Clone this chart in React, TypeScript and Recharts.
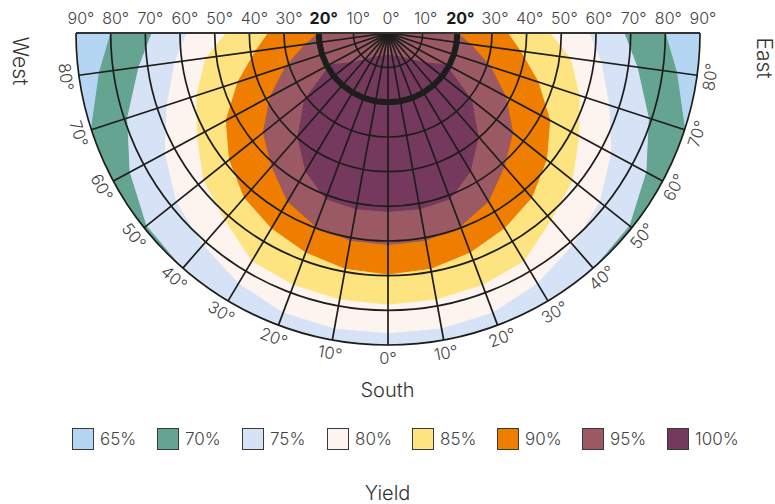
import { RadarChart, Radar, PolarGrid, PolarAngleAxis, PolarRadiusAxis, Legend } from 'recharts'

const FONT = "Inter, 'Noto Sans', sans-serif"
const CX = 388
const CY = 33
const R = 312

// azimuth from west (-90) over south (0) to east (90)
const azimuths = [-90, -80, -70, -60, -50, -40, -30, -20, -10, 0, 10, 20, 30, 40, 50, 60, 70, 80, 90]

// tilt (deg) up to which the yield stays at or above each level, per azimuth
const yield65 = [90, 90, 90, 90, 90, 90, 90, 90, 90, 90, 90, 90, 90, 90, 90, 90, 90, 90, 90]
const yield70 = [79, 84, 90, 90, 90, 90, 90, 90, 90, 90, 90, 90, 90, 90, 90, 90, 90, 84, 79]
const yield75 = [67, 72.5, 79, 84.5, 89, 90, 90, 90, 90, 90, 90, 90, 90, 90, 89, 84.5, 79, 72.5, 67]
const yield80 = [57, 62, 67, 73, 78, 81, 84, 86, 86.5, 86.5, 86.5, 86, 84, 81, 78, 73, 67, 62, 57]
const yield85 = [45, 53, 58, 62.5, 68, 71.5, 76.5, 77.5, 78, 78.2, 78, 77.5, 76.5, 71.5, 68, 62.5, 58, 53, 45]
const yield90 = [33.5, 38.5, 45.5, 53, 58.5, 63, 65.5, 67.5, 69, 69.5, 69, 67.5, 65.5, 63, 58.5, 53, 45.5, 38.5, 33.5]
const yield95 = [19, 24, 31, 38.5, 46, 51, 56.5, 59.5, 60.8, 61, 60.8, 59.5, 56.5, 51, 46, 38.5, 31, 24, 19]
// the 100 % area does not touch the centre: [from tilt, to tilt]
const yield100 = [
  [19, 19], [19, 19], [19, 19], [19, 19], [13.5, 31], [10, 39.8], [8, 46.5], [7, 51.2], [6.5, 51.7], [6.3, 51.6],
  [6.5, 51.7], [7, 51.2], [8, 46.5], [10, 39.8], [13.5, 31], [19, 19], [19, 19], [19, 19], [19, 19],
]

const levels = ['65%', '70%', '75%', '80%', '85%', '90%', '95%', '100%']
const levelKeys = ['y65', 'y70', 'y75', 'y80', 'y85', 'y90', 'y95', 'y100']
const levelColors = ['#b5d6f2', '#64a490', '#d6e3f6', '#fdf4ef', '#fee480', '#ef7d00', '#9b5a63', '#76395e']

const highlightTilt = 20

const rows = azimuths.map((az, i) => ({
  az,
  y65: yield65[i],
  y70: yield70[i],
  y75: yield75[i],
  y80: yield80[i],
  y85: yield85[i],
  y90: yield90[i],
  y95: yield95[i],
  y100: yield100[i],
  ring: highlightTilt,
}))

const css = `
body { margin: 0; }
.recharts-polar-grid, .recharts-radar { clip-path: url(#lowerHalf); }
`

function RimTick(props: any) {
  const { x, y, payload } = props
  const v = payload.value
  if (Math.abs(v) >= 90) return <g />
  const rot = 270 - payload.coordinate
  return (
    <text
      x={x}
      y={y}
      transform={`rotate(${rot} ${x} ${y})`}
      textAnchor="middle"
      dominantBaseline="central"
      fontSize={16.5}
      fontFamily={FONT}
      fontWeight={300}
      fill="#444"
    >
      {Math.abs(v)}°
    </text>
  )
}

function TopTick(props: any) {
  const { x, y, payload, side } = props
  const v = payload.value
  if (side === 'left' && v === 0) return <g />
  const bold = v === highlightTilt
  const dx = side === 'left' ? 5 : 3
  return (
    <text
      x={x + dx}
      y={y - 9}
      textAnchor="middle"
      fontSize={16}
      fontFamily={FONT}
      fontWeight={bold ? 700 : 300}
      fill={bold ? '#1a1a1a' : '#444'}
    >
      {v}°
    </text>
  )
}

const renderLegend = () => (
  <div style={{ fontFamily: FONT }}>
    <div style={{ display: 'flex', paddingLeft: 72, marginTop: 10 }}>
      {levels.map((lv, i) => (
        <div key={lv} style={{ width: 85, display: 'flex', alignItems: 'center' }}>
          <span
            style={{
              display: 'inline-block',
              boxSizing: 'border-box',
              width: 22,
              height: 22,
              background: levelColors[i],
              border: '1.5px solid #3a3a3a',
              marginRight: 6,
            }}
          />
          <span style={{ fontSize: 17, color: '#444', fontWeight: 300 }}>{lv}</span>
        </div>
      ))}
    </div>
    <div style={{ textAlign: 'center', fontSize: 20, color: '#333', marginTop: 31, fontWeight: 300 }}>Yield</div>
  </div>
)

const sideLabel = (left: number, top: number): React.CSSProperties => ({
  position: 'absolute',
  left,
  top,
  transform: 'translate(-50%, -50%) rotate(90deg)',
  fontSize: 21,
  fontWeight: 300,
  color: '#333',
  whiteSpace: 'nowrap',
  lineHeight: 1,
})

export default function App() {
  return (
    <div style={{ position: 'relative', width: 775, height: 504, fontFamily: FONT, background: '#fff' }}>
      <style>{css}</style>
      <svg width={0} height={0} style={{ position: 'absolute' }}>
        <defs>
          <clipPath id="lowerHalf" clipPathUnits="userSpaceOnUse">
            <rect x={0} y={CY} width={775} height={504} />
          </clipPath>
        </defs>
      </svg>
      <RadarChart
        width={775}
        height={504}
        data={rows}
        cx={CX}
        cy={CY}
        outerRadius={R}
        startAngle={177.5}
        endAngle={362.5}
        margin={{ top: 0, right: 0, bottom: 0, left: 0 }}
      >
        {levelKeys.map((k, i) => (
          <Radar
            key={k}
            dataKey={k}
            name={levels[i]}
            fill={levelColors[i]}
            fillOpacity={1}
            stroke={k === 'y100' ? 'none' : levelColors[i]}
            strokeWidth={1}
            dot={false}
            isAnimationActive={false}
          />
        ))}
        <PolarGrid gridType="circle" stroke="#1d1d1b" strokeWidth={1.7} strokeOpacity={1} zIndex={150} />
        <Radar
          dataKey="ring"
          name="ring"
          fill="none"
          fillOpacity={0}
          stroke="#1d1d1b"
          strokeWidth={6}
          dot={false}
          legendType="none"
          isAnimationActive={false}
          zIndex={160}
        />
        <PolarAngleAxis
          dataKey="az"
          type="number"
          domain={[-90, 90]}
          allowDataOverflow
          tickCount={19}
          axisLine={false}
          tickLine={false}
          tickSize={13}
          tick={RimTick}
        />
        <PolarRadiusAxis
          angle={0}
          type="number"
          domain={[0, 90]}
          allowDataOverflow
          tickCount={10}
          axisLine={{ stroke: '#333', strokeWidth: 2 }}
          tick={(p: any) => <TopTick {...p} side="right" />}
        />
        <PolarRadiusAxis
          radiusAxisId="left"
          angle={180}
          type="number"
          domain={[0, 90]}
          allowDataOverflow
          tickCount={10}
          axisLine={{ stroke: '#333', strokeWidth: 2 }}
          tick={(p: any) => <TopTick {...p} side="left" />}
        />
        <Legend
          verticalAlign="bottom"
          content={renderLegend}
          wrapperStyle={{ top: 418, bottom: 'auto', left: 0, width: 775 }}
        />
      </RadarChart>
      <div style={sideLabel(20, 61)}>West</div>
      <div style={sideLabel(764, 58)}>East</div>
      <div
        style={{
          position: 'absolute',
          left: 0,
          width: 775,
          top: 377,
          textAlign: 'center',
          fontSize: 20,
          fontWeight: 300,
          color: '#333',
          lineHeight: '26px',
        }}
      >
        South
      </div>
    </div>
  )
}
